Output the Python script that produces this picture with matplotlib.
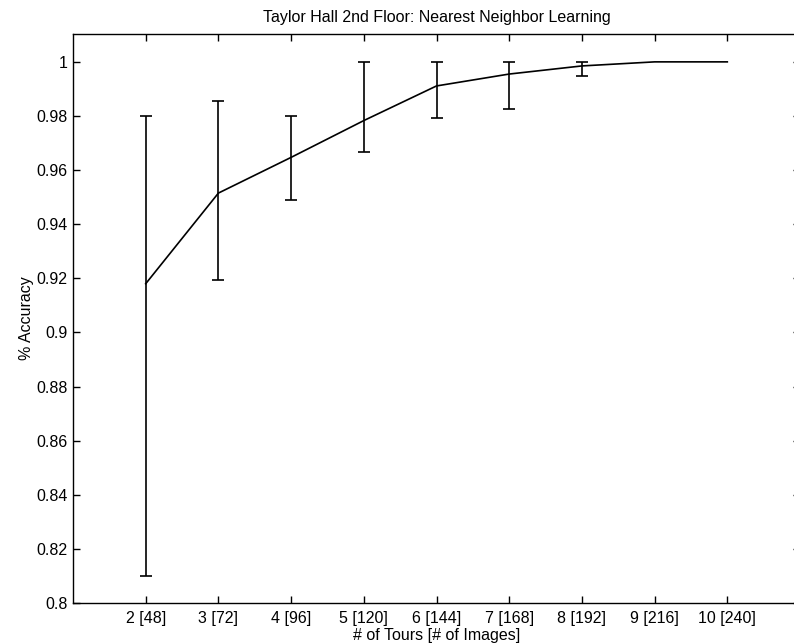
import numpy as np
import matplotlib
matplotlib.use("Agg")
import matplotlib.pyplot as plt

plt.rcParams['font.family'] = ['Liberation Sans', 'DejaVu Sans']

tours = [2, 3, 4, 5, 6, 7, 8, 9, 10]
tick_labels = ['2 [48]', '3 [72]', '4 [96]', '5 [120]', '6 [144]',
               '7 [168]', '8 [192]', '9 [216]', '10 [240]']
accuracy = [0.918, 0.9515, 0.9647, 0.9783, 0.9911, 0.9955, 0.9985, 1.0, 1.0]
upper = [0.980, 0.9856, 0.980, 1.0, 1.0, 1.0, 1.0, np.nan, np.nan]
lower = [0.810, 0.9195, 0.949, 0.9668, 0.9793, 0.9826, 0.9948, np.nan, np.nan]

fig = plt.figure(figsize=(7.94, 6.44), dpi=100)
ax = fig.add_axes([73/794, 41/644, 727/794, 569/644])

ax.plot(tours, accuracy, color='black', lw=1.2)
x = np.array(tours, dtype=float)
acc = np.array(accuracy)
up = np.array(upper)
lo = np.array(lower)
m = ~np.isnan(up)
ax.errorbar(x[m], acc[m], yerr=[acc[m] - lo[m], up[m] - acc[m]], fmt='none',
            ecolor='black', elinewidth=1.2, capsize=4.3, capthick=1.2)

ax.set_xlim(1, 11)
ax.set_ylim(0.8, 1.0103)
ax.set_xticks(tours)
ax.set_xticklabels(tick_labels)
ax.set_yticks([0.8, 0.82, 0.84, 0.86, 0.88, 0.9, 0.92, 0.94, 0.96, 0.98, 1.0])
ax.set_yticklabels(['0.8', '0.82', '0.84', '0.86', '0.88', '0.9', '0.92',
                    '0.94', '0.96', '0.98', '1'])
ax.tick_params(direction='in', length=5, width=1, top=True, right=True,
               labelsize=11.5)
ax.tick_params(axis='x', pad=6)
ax.tick_params(axis='y', pad=4)
for s in ax.spines.values():
    s.set_linewidth(1)

ax.set_title('Taylor Hall 2nd Floor: Nearest Neighbor Learning', fontsize=11.5, pad=8.5)
ax.set_xlabel('# of Tours [# of Images]', fontsize=11.5, labelpad=1)
ax.set_ylabel('% Accuracy', fontsize=11.5, labelpad=1.5)

fig.savefig('out.png', dpi=100)
